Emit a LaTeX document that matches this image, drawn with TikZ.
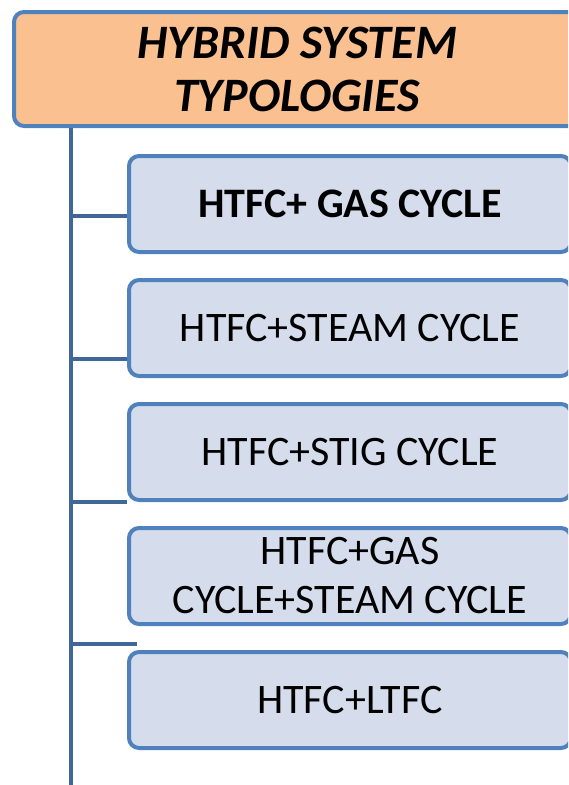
\documentclass[tikz,border=0pt]{standalone}
\usepackage{fontspec}
\setmainfont{Carlito}
\usetikzlibrary{positioning}
\definecolor{hdrfill}{HTML}{FAC090}
\definecolor{boxfill}{HTML}{D5DCEB}
\definecolor{boxline}{HTML}{4F81BD}
\definecolor{spineblue}{HTML}{3F6897}
\tikzset{
  head/.style={rectangle,rounded corners=10pt,draw=boxline,fill=hdrfill,line width=4pt,
    minimum width=566pt,minimum height=114pt,align=center,
    font=\fontsize{48}{53}\selectfont\bfseries\itshape},
  kind/.style={rectangle,rounded corners=10pt,draw=boxline,fill=boxfill,line width=4pt,
    minimum width=442pt,minimum height=96pt,align=center,
    font=\fontsize{42}{49}\selectfont},
  link/.style={draw=spineblue,line width=4pt},
}
\begin{document}
\begin{tikzpicture}[x=1pt,y=-1pt,node distance=24pt]
  \useasboundingbox (0,0) rectangle (568,785);
  \clip (0,0) rectangle (568,785);
  \node[head,anchor=north west] (top) at (12,10) {HYBRID SYSTEM\\TYPOLOGIES};
  \node[kind,anchor=north west] (gas) at (127,154) {\bfseries HTFC+ GAS CYCLE};
  \node[kind,below=of gas] (steam) {HTFC+STEAM CYCLE};
  \node[kind,below=of steam] (stig) {HTFC+STIG CYCLE};
  \node[kind,below=of stig] (combo) {HTFC+GAS\\CYCLE+STEAM CYCLE};
  \node[kind,below=of combo] (ltfc) {HTFC+LTFC};
  % spine and branches
  \coordinate (spineend) at (71,790);
  \draw[link] (top.south -| spineend) -- (spineend);
  \path ([yshift=-12pt]gas.west) coordinate (j1);
  \path ([yshift=-31pt]steam.west) coordinate (j2);
  \path ([yshift=-50pt]stig.west) coordinate (j3);
  \path ([yshift=-68pt,xshift=10pt]combo.west) coordinate (j4);
  \draw[link] (j1 -| spineend) -- (j1);
  \draw[link] (j2 -| spineend) -- (j2);
  \draw[link] (j3 -| spineend) -- (j3);
  \draw[link] (j4 -| spineend) -- (j4);
\end{tikzpicture}
\end{document}
